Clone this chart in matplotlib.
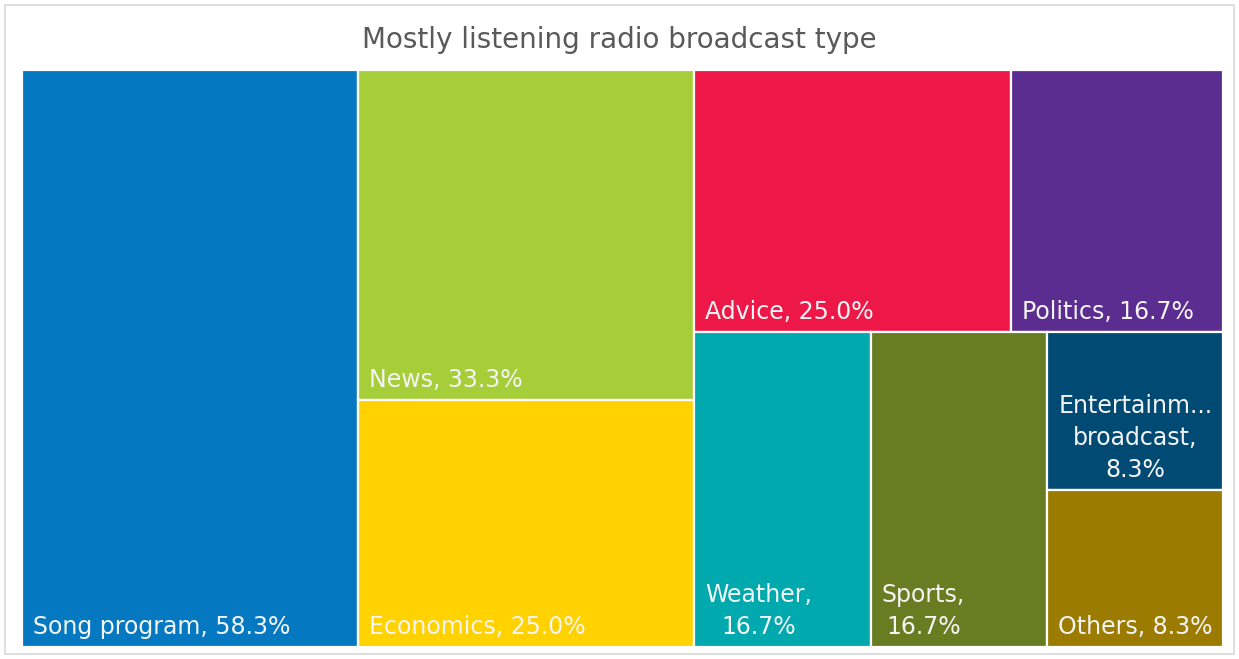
import matplotlib.pyplot as plt
from matplotlib.patches import Rectangle

# Anteile der meistgehörten Sendungsarten (Mehrfachnennung, daher > 100 %)
names = ["Song program", "News", "Economics", "Advice", "Politics",
         "Weather", "Sports", "Entertainment broadcast", "Others"]
labels = ["Song program", "News", "Economics", "Advice", "Politics",
          "Weather,\n", "Sports,\n", "Entertainm...\nbroadcast,\n", "Others"]
values = [58.3, 33.3, 25.0, 25.0, 16.7, 16.7, 16.7, 8.3, 8.3]
colors = ["#0479C1", "#A6CE39", "#FFD200", "#EE1848", "#5C2D91",
          "#00A9AD", "#687C22", "#004A74", "#9B7B00"]

TITLE = "Mostly listening radio broadcast type"


def worst(row, side):
    s = sum(row)
    return max(max(side * side * r / (s * s), (s * s) / (side * side * r)) for r in row)


def squarify(sizes, x, y, w, h):
    """Squarified treemap, y nach unten."""
    rects = []
    sizes = list(sizes)
    while sizes:
        short = min(w, h)
        row = [sizes[0]]
        i = 1
        while i < len(sizes) and worst(row + [sizes[i]], short) <= worst(row, short):
            row.append(sizes[i])
            i += 1
        sizes = sizes[i:]
        s = sum(row)
        if w >= h:
            cw = s / h
            yy = y
            for a in row:
                rects.append((x, yy, cw, a / cw))
                yy += a / cw
            x += cw
            w -= cw
        else:
            rh = s / w
            xx = x
            for a in row:
                rects.append((xx, y, a / rh, rh))
                xx += a / rh
            y += rh
            h -= rh
    return rects


W, H = 1201.0, 577.0
total = sum(values)
areas = [v / total * W * H for v in values]
rects = squarify(areas, 0, 0, W, H)

fig = plt.figure(figsize=(12.39, 6.59), dpi=100)
fig.patches.append(Rectangle((5 / 1239, 5 / 659), 1229 / 1239, 649 / 659,
                             transform=fig.transFigure, facecolor="none",
                             edgecolor="#D9D9D9", linewidth=1.2, zorder=-1))

ax = fig.add_axes([22 / 1239, 12 / 659, W / 1239, H / 659])
ax.set_xlim(0, W)
ax.set_ylim(H, 0)
ax.axis("off")

for (x, y, dx, dy), name, lab, v, c in zip(rects, names, labels, values, colors):
    ax.add_patch(Rectangle((x, y), dx, dy, facecolor=c, edgecolor="white", linewidth=1.6))
    txt = f"{lab}{v:.1f}%" if lab.endswith("\n") else f"{lab}, {v:.1f}%"
    ax.text(x + 11, y + dy - 8, txt, ha="left", va="bottom", multialignment="center",
            color="#F4F4F4", fontsize=17, family="DejaVu Sans", linespacing=1.4)

fig.text(0.5, 1 - 40 / 659, TITLE, ha="center", va="center", fontsize=20,
         color="#595959", family="DejaVu Sans")

fig.savefig("out.png", dpi=100)
